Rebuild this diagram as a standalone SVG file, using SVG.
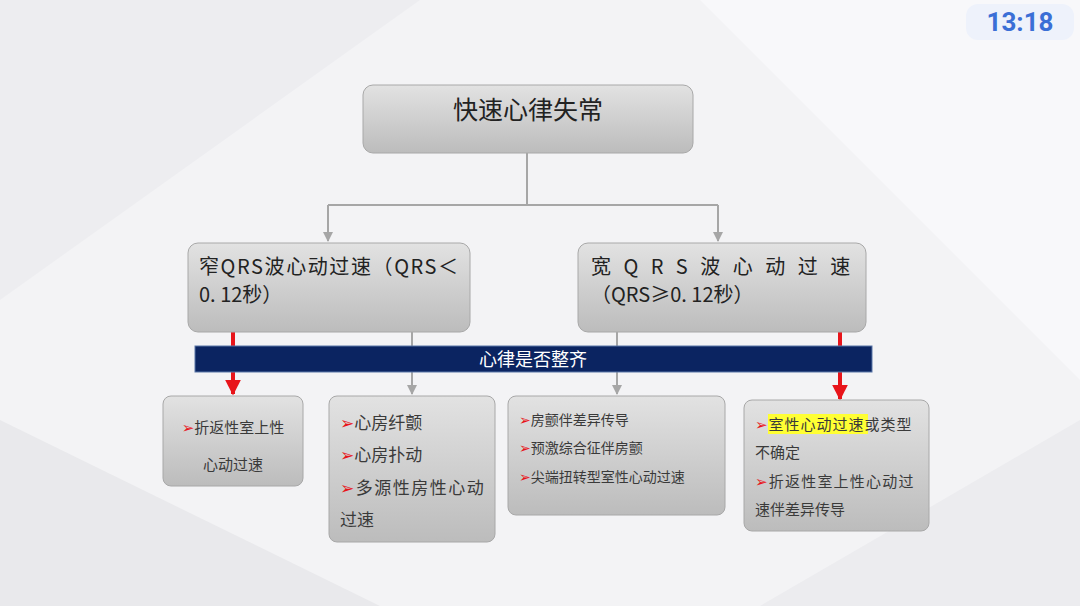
<svg xmlns="http://www.w3.org/2000/svg" width="1080" height="606" viewBox="0 0 1080 606">
<defs>
<linearGradient id="g" x1="0" y1="0" x2="0" y2="1">
<stop offset="0" stop-color="#e2e2e2"/>
<stop offset="1" stop-color="#bcbcbc"/>
</linearGradient>
<marker id="ag" viewBox="0 0 10 10" refX="9" refY="5" markerWidth="5" markerHeight="5" orient="auto"><path d="M0,0L10,5L0,10z" fill="#a6a6a6"/></marker>
<marker id="ar" viewBox="0 0 10 10" refX="9" refY="5" markerWidth="4" markerHeight="4" orient="auto"><path d="M0,0L10,5L0,10z" fill="#e8141a"/></marker>
<style>
.box{fill:url(#g);stroke:#a8a8a8;stroke-width:1}
.t{font-family:"Noto Sans CJK SC","Noto Sans",sans-serif;fill:#222}
.s{font-family:"Noto Sans CJK SC","Noto Sans",sans-serif;fill:#3a3a3a}
.b{fill:#e8141a;font-family:"DejaVu Sans",sans-serif}
.cg{stroke:#a6a6a6;stroke-width:2;fill:none}
.cr{stroke:#e8141a;stroke-width:4;fill:none}
</style>
</defs>
<rect width="1080" height="606" fill="#f3f3f5"/>
<polygon points="0,0 420,0 0,300" fill="#ededf0"/>
<polygon points="700,0 1080,0 1080,380" fill="#f8f8fa"/>
<polygon points="0,420 380,606 0,606" fill="#e9e9ec"/>
<polygon points="760,606 1080,420 1080,606" fill="#ececef"/>
<g id="clock">
<rect x="966" y="4" width="108" height="36" rx="12" fill="#eef2fb"/>
<text x="1020" y="31" text-anchor="middle" font-family="Roboto,'Liberation Sans',sans-serif" font-weight="bold" font-size="26" fill="#3b6fd6">13:18</text>
</g>
<g id="connectors">
<path class="cg" d="M527,153V205M328,205H718"/>
<path class="cg" d="M328,205V241" marker-end="url(#ag)"/>
<path class="cg" d="M718,205V241" marker-end="url(#ag)"/>
<path class="cg" d="M412,332V394" marker-end="url(#ag)"/>
<path class="cg" d="M617,332V394" marker-end="url(#ag)"/>
<path class="cr" d="M233,332V394" marker-end="url(#ar)"/>
<path class="cr" d="M840,332V399" marker-end="url(#ar)"/>
</g>
<g id="root">
<rect class="box" x="363" y="85" width="330" height="68" rx="10"/>
<text class="t" x="528" y="119" text-anchor="middle" font-size="25">快速心律失常</text>
</g>
<g id="narrow">
<rect class="box" x="188" y="243" width="282" height="89" rx="10"/>
<text class="t" x="199" y="274" font-size="20" letter-spacing="1.6">窄QRS波心动过速（QRS＜</text>
<text class="t" x="199" y="302" font-size="20">0. 12秒）</text>
</g>
<g id="wide">
<rect class="box" x="578" y="243" width="288" height="89" rx="10"/>
<text class="t" x="591" y="274" font-size="20" letter-spacing="12.5">宽QRS波心动过速</text>
<text class="t" x="591" y="302" font-size="20">（QRS≥0. 12秒）</text>
</g>
<g id="question">
<rect x="195" y="346" width="677" height="26" fill="#0b2461" stroke="#5a76a8" stroke-width="1"/>
<text x="533" y="366" text-anchor="middle" font-family="'Noto Sans CJK SC',sans-serif" font-size="18" fill="#ffffff">心律是否整齐</text>
</g>
<g id="n1">
<rect class="box" x="163" y="396" width="140" height="90" rx="8"/>
<text class="s" x="233" y="433" text-anchor="middle" font-size="15"><tspan class="b">➢</tspan>折返性室上性</text>
<text class="s" x="233" y="470" text-anchor="middle" font-size="15">心动过速</text>
</g>
<g id="n2">
<rect class="box" x="329" y="396" width="166" height="146" rx="8"/>
<text class="s" x="340" y="429" font-size="17"><tspan class="b">➢</tspan>心房纤颤</text>
<text class="s" x="340" y="461" font-size="17"><tspan class="b">➢</tspan>心房扑动</text>
<text class="s" x="340" y="494" font-size="17" letter-spacing="1.5"><tspan class="b">➢</tspan>多源性房性心动</text>
<text class="s" x="340" y="526" font-size="17">过速</text>
</g>
<g id="n3">
<rect class="box" x="508" y="396" width="217" height="119" rx="8"/>
<text class="s" x="519" y="425" font-size="14"><tspan class="b">➢</tspan>房颤伴差异传导</text>
<text class="s" x="519" y="453" font-size="14"><tspan class="b">➢</tspan>预激综合征伴房颤</text>
<text class="s" x="519" y="482" font-size="14"><tspan class="b">➢</tspan>尖端扭转型室性心动过速</text>
</g>
<g id="n4">
<rect class="box" x="744" y="400" width="185" height="131" rx="8"/>
<rect x="768" y="414" width="100" height="20" fill="#ffff33"/>
<text class="s" x="755" y="430" font-size="15" letter-spacing="1"><tspan class="b">➢</tspan>室性心动过速或类型</text>
<text class="s" x="755" y="458" font-size="15">不确定</text>
<text class="s" x="755" y="487" font-size="15" letter-spacing="1.2"><tspan class="b">➢</tspan>折返性室上性心动过</text>
<text class="s" x="755" y="515" font-size="15">速伴差异传导</text>
</g>
</svg>
